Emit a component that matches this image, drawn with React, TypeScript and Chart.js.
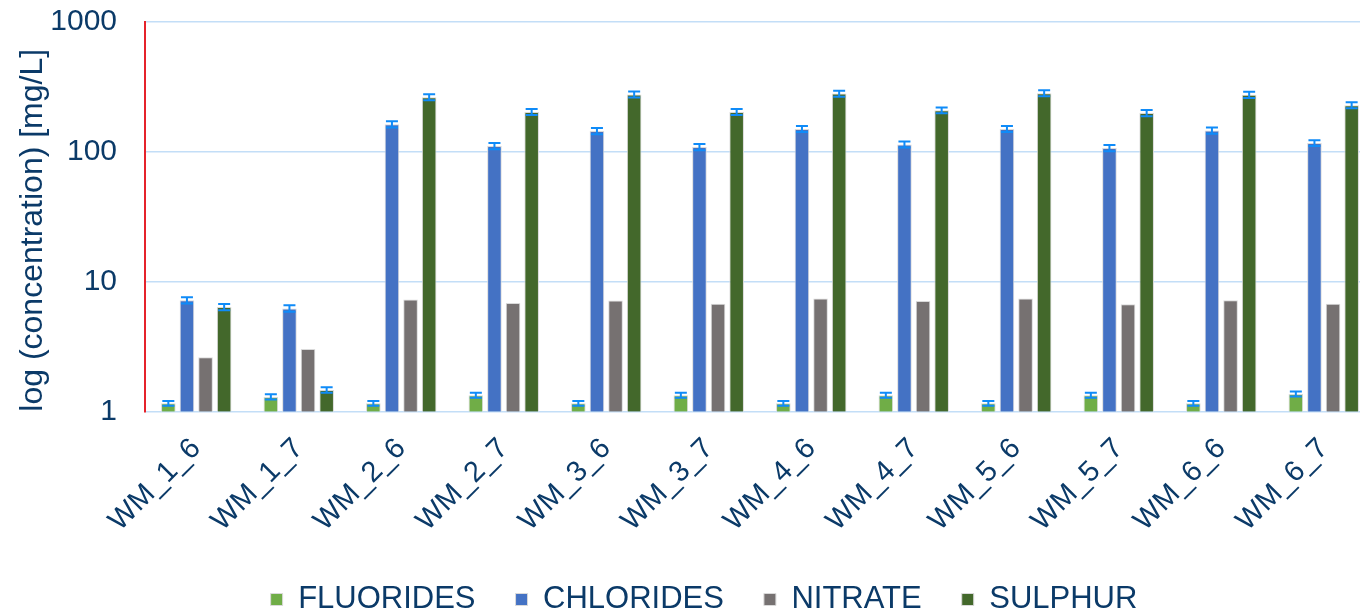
import React, { useEffect, useRef } from 'react';
import { Chart, registerables } from 'chart.js';

Chart.register(...registerables);

const categories = ['WM_1_6', 'WM_1_7', 'WM_2_6', 'WM_2_7', 'WM_3_6', 'WM_3_7', 'WM_4_6', 'WM_4_7', 'WM_5_6', 'WM_5_7', 'WM_6_6', 'WM_6_7'];
const fluorides = [1.16, 1.30, 1.16, 1.34, 1.16, 1.34, 1.16, 1.34, 1.16, 1.34, 1.16, 1.37];
const fluoridesErr = [0.05, 0.06, 0.05, 0.06, 0.05, 0.06, 0.05, 0.06, 0.05, 0.06, 0.05, 0.06];
const chlorides = [7.2, 6.24, 163, 111, 145, 109, 150, 114, 150, 107, 146, 117];
const chloridesErr = [0.4, 0.35, 9, 6, 8, 6, 8, 6, 8, 6, 8, 6];
const nitrate = [2.62, 3.04, 7.32, 6.86, 7.19, 6.77, 7.45, 7.1, 7.45, 6.73, 7.2, 6.77];
const sulphur = [6.39, 1.47, 264, 203, 277, 203, 281, 209, 283, 199, 275, 229];
const sulphurErr = [0.35, 0.07, 14, 11, 15, 11, 15, 11, 15, 11, 15, 12];
const yTicks = [1, 10, 100, 1000];

const FONT = "'Liberation Sans', Arial, sans-serif";
const NAVY = '#0B3A68';
const CANVAS_W = 1380;
const CANVAS_H = 625;
const PLOT_BOTTOM = 411.7;

const errorBarPlugin = {
  id: 'errorBars',
  afterDatasetsDraw(chart: any) {
    const ctx = chart.ctx;
    const yScale = chart.scales.y;
    chart.data.datasets.forEach((ds: any, di: number) => {
      if (!ds.errors) return;
      const meta = chart.getDatasetMeta(di);
      if (meta.hidden) return;
      meta.data.forEach((el: any, i: number) => {
        const v = ds.data[i];
        const e = ds.errors[i];
        if (e == null) return;
        const yTop = yScale.getPixelForValue(v + e);
        const yBot = yScale.getPixelForValue(Math.max(v - e, 0.0001));
        const x = el.x;
        const hw = 6;
        ctx.save();
        ctx.strokeStyle = '#0F8BF8';
        ctx.lineWidth = 2;
        ctx.beginPath();
        ctx.moveTo(x, yTop);
        ctx.lineTo(x, yBot);
        ctx.moveTo(x - hw, yTop);
        ctx.lineTo(x + hw, yTop);
        ctx.moveTo(x - hw, yBot);
        ctx.lineTo(x + hw, yBot);
        ctx.stroke();
        ctx.restore();
      });
    });
  },
};

export default function App() {
  const ref = useRef<HTMLCanvasElement | null>(null);

  useEffect(() => {
    if (!ref.current) return;
    const mk = (label: string, data: number[], color: string, errors?: number[]) => ({
      label,
      data,
      errors,
      backgroundColor: color,
      borderColor: '#DADADA',
      borderWidth: 1,
      categoryPercentage: 0.726,
      barPercentage: 0.785,
    });
    const chart = new Chart(ref.current, {
      type: 'bar',
      data: {
        labels: categories,
        datasets: [
          mk('FLUORIDES', fluorides, '#70AD47', fluoridesErr),
          mk('CHLORIDES', chlorides, '#4472C4', chloridesErr),
          mk('NITRATE', nitrate, '#767171'),
          mk('SULPHUR', sulphur, '#43682B', sulphurErr),
        ] as any,
      },
      options: {
        animation: false,
        responsive: false,
        devicePixelRatio: 1,
        layout: { padding: { left: 33, right: CANVAS_W - 1375, top: 22, bottom: 0 } },
        plugins: {
          tooltip: { enabled: false },
          legend: {
            position: 'bottom',
            labels: {
              font: { family: FONT, size: 31 },
              color: NAVY,
              boxWidth: 12,
              boxHeight: 12,
              padding: 40,
            },
          },
        },
        scales: {
          x: {
            grid: { display: false, drawTicks: false },
            border: { display: false },
            ticks: {
              font: { family: FONT, size: 29 },
              color: NAVY,
              minRotation: 45,
              maxRotation: 45,
              autoSkip: false,
              padding: 20,
            },
            afterFit: (s: any) => {
              s.height = Math.max(0, s.chart.height - (s.chart.legend ? s.chart.legend.height : 0) - PLOT_BOTTOM);
            },
          },
          y: {
            type: 'logarithmic',
            min: 1,
            max: 1000,
            afterBuildTicks: (s: any) => {
              s.ticks = yTicks.map((v) => ({ value: v }));
            },
            grid: { color: '#C3DEF7', lineWidth: 1.6, drawTicks: false },
            border: { color: '#E5232B', width: 2 },
            ticks: {
              font: { family: FONT, size: 30 },
              color: NAVY,
              padding: 28,
              callback: (v: any) => String(v),
            },
            title: {
              display: true,
              text: 'log (concentration) [mg/L]',
              font: { family: FONT, size: 32 },
              color: NAVY,
              align: 'start',
              padding: { top: -19, bottom: 0 },
            },
            afterFit: (s: any) => {
              s.width = 112;
              s.paddingTop = 10;
              s.paddingBottom = 10;
            },
          },
        },
      } as any,
      plugins: [errorBarPlugin],
    });
    return () => chart.destroy();
  }, []);

  return (
    <div style={{ position: 'absolute', left: 0, top: 0, width: 1360, height: 615, overflow: 'hidden', background: '#fff' }}>
      <canvas ref={ref} width={CANVAS_W} height={CANVAS_H} style={{ width: CANVAS_W, height: CANVAS_H, display: 'block' }} />
    </div>
  );
}
